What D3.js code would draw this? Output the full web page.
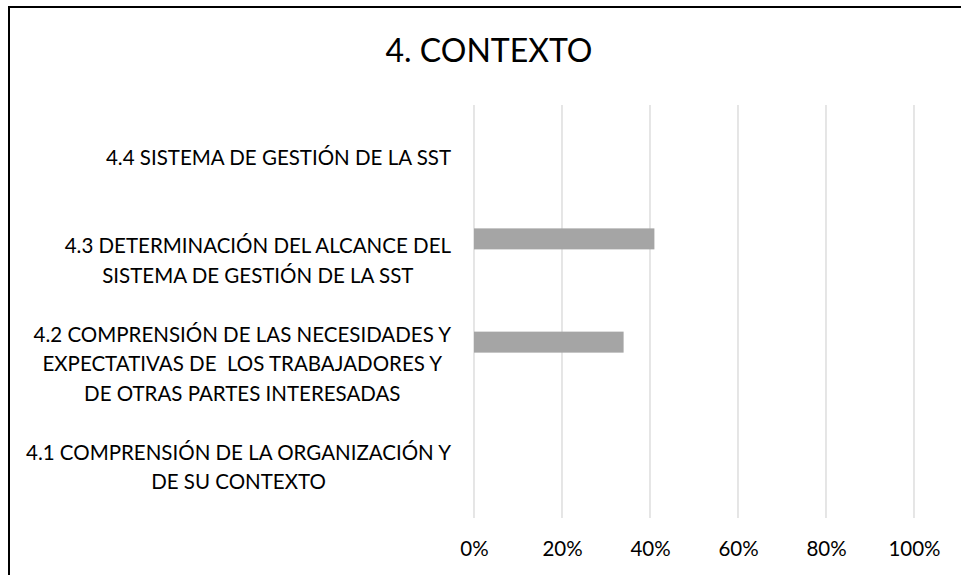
<!DOCTYPE html>
<html>
<head>
<meta charset="utf-8">
<script src="https://cdn.jsdelivr.net/npm/d3@7"></script>
<style>
    body { margin: 0; background: white; }
    svg { display: block; font-family: Lato, "Open Sans", sans-serif; }
    .cat-label { white-space: pre; }
</style>
</head>
<body>
<div id="chart"></div>
<script>
// 4. CONTEXTO - cumplimiento por numeral
const title = "4. CONTEXTO";

// Categories from bottom to top (as in the Excel chart)
const categories = [
    "4.1 COMPRENSIÓN DE LA ORGANIZACIÓN Y\nDE SU CONTEXTO",
    "4.2 COMPRENSIÓN DE LAS NECESIDADES Y\nEXPECTATIVAS DE  LOS TRABAJADORES Y\nDE OTRAS PARTES INTERESADAS",
    "4.3 DETERMINACIÓN DEL ALCANCE DEL\nSISTEMA DE GESTIÓN DE LA SST",
    "4.4 SISTEMA DE GESTIÓN DE LA SST"
];

// Percent values
const values = [0, 34, 41, 0];

// X axis ticks
const xTicks = [0, 20, 40, 60, 80, 100];

// Size
const w = 961;
const h = 575;
const plot = { left: 474, right: 914, top: 105, bottom: 518 };

const svg = d3.select("#chart")
    .append("svg")
    .attr("width", w)
    .attr("height", h);

// Chart border (only top & left visible in the crop)
svg.append("rect")
    .attr("x", 9)
    .attr("y", 7)
    .attr("width", w + 20)
    .attr("height", h + 20)
    .attr("fill", "white")
    .attr("stroke", "black")
    .attr("stroke-width", 2);

// Scales
const xScale = d3.scaleLinear().domain([0, 100]).range([plot.left, plot.right]);
const yScale = d3.scaleBand()
    .domain(categories.slice().reverse())
    .range([plot.top, plot.bottom])
    .padding(0);

// the series sits in the top slot of a 3-slot group
const groupHeight = yScale.bandwidth() * 0.61;
const slotScale = d3.scaleBand().domain([0, 1, 2]).range([-groupHeight / 2, groupHeight / 2]);
const barSlot = 0;

// Gridlines
svg.append("g")
    .selectAll("line")
    .data(xTicks)
    .enter()
    .append("line")
    .attr("x1", d => xScale(d))
    .attr("x2", d => xScale(d))
    .attr("y1", plot.top)
    .attr("y2", plot.bottom)
    .attr("stroke", "#d9d9d9")
    .attr("stroke-width", 1.33);

// X axis labels
const xAxis = svg.append("g")
    .attr("transform", `translate(0, ${plot.bottom})`)
    .call(d3.axisBottom(xScale).tickValues(xTicks).tickFormat(d => d + "%").tickSize(0).tickPadding(23));
xAxis.select(".domain").remove();
xAxis.selectAll("text")
    .attr("font-family", "Lato, 'Open Sans', sans-serif")
    .attr("font-size", 20.5)
    .attr("fill", "#000");

// Bars
svg.append("g")
    .selectAll("rect")
    .data(categories)
    .enter()
    .append("rect")
    .attr("x", xScale(0))
    .attr("y", d => yScale(d) + yScale.bandwidth() / 2 + slotScale(barSlot))
    .attr("width", (d, i) => xScale(values[i]) - xScale(0))
    .attr("height", slotScale.bandwidth())
    .attr("fill", "#a5a5a5");

// Category labels (centred lines, block right aligned)
const labelRight = 451;
const lineHeight = 29.5;
categories.forEach((cat) => {
    const lines = cat.split("\n");
    const cy = yScale(cat) + yScale.bandwidth() / 2;
    const g = svg.append("g");
    const texts = g.selectAll("text")
        .data(lines)
        .enter()
        .append("text")
        .attr("class", "cat-label")
        .attr("font-size", 20.5)
        .attr("text-anchor", "middle")
        .attr("dominant-baseline", "central")
        .attr("y", (d, i) => cy + (i - (lines.length - 1) / 2) * lineHeight)
        .text(d => d);
    let maxW = 0;
    texts.each(function() { maxW = Math.max(maxW, this.getComputedTextLength()); });
    texts.attr("x", labelRight - maxW / 2);
});

// Title
svg.append("text")
    .attr("x", 489)
    .attr("y", 62)
    .attr("text-anchor", "middle")
    .attr("font-size", 32)
    .attr("fill", "#000")
    .text(title);
</script>
</body>
</html>
